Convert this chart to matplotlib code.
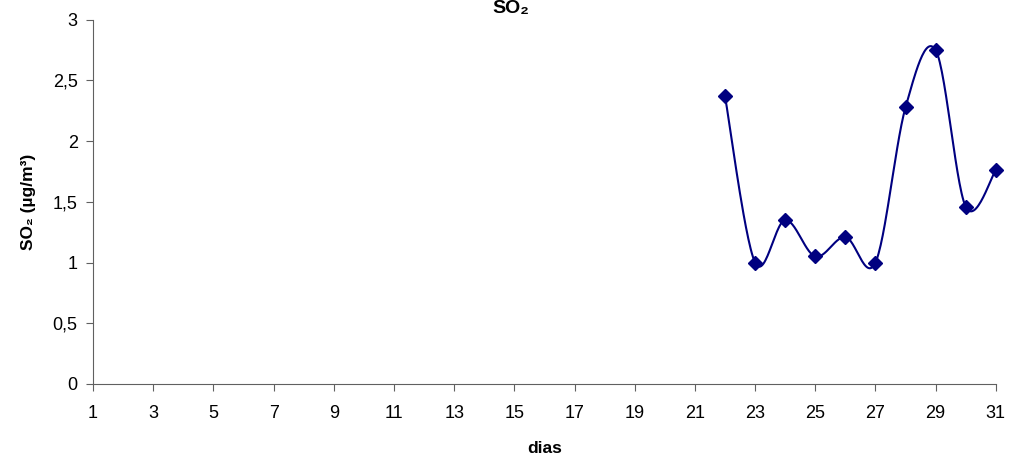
import numpy as np
import matplotlib.pyplot as plt
from matplotlib.ticker import FuncFormatter

plt.rcParams['font.family'] = ['Liberation Sans', 'DejaVu Sans']

# data (days 22-31)
dias = [22, 23, 24, 25, 26, 27, 28, 29, 30, 31]
so2 = [2.37, 1.00, 1.35, 1.05, 1.21, 1.00, 2.28, 2.75, 1.46, 1.76]
x_ticks = list(range(1, 32, 2))
y_ticks = [0, 0.5, 1, 1.5, 2, 2.5, 3]


def smooth(x, y, n=30):
    # excel-style smoothing (catmull-rom bezier)
    x = np.array(x, dtype=float)
    y = np.array(y, dtype=float)
    px = np.concatenate([[x[0]], x, [x[-1]]])
    py = np.concatenate([[y[0]], y, [y[-1]]])
    xs, ys = [], []
    t = np.linspace(0, 1, n)
    for i in range(1, len(px) - 2):
        p0 = np.array([px[i], py[i]])
        p3 = np.array([px[i + 1], py[i + 1]])
        p1 = p0 + (np.array([px[i + 1], py[i + 1]]) - np.array([px[i - 1], py[i - 1]])) / 6
        p2 = p3 - (np.array([px[i + 2], py[i + 2]]) - np.array([px[i], py[i]])) / 6
        b = ((1 - t) ** 3)[:, None] * p0 + (3 * (1 - t) ** 2 * t)[:, None] * p1 \
            + (3 * (1 - t) * t ** 2)[:, None] * p2 + (t ** 3)[:, None] * p3
        xs.extend(b[:, 0])
        ys.extend(b[:, 1])
    return xs, ys


fig = plt.figure(figsize=(10.11, 4.71), dpi=100)
ax = fig.add_axes([0.092, 0.185, 0.893, 0.773])

sx, sy = smooth(dias, so2)
ax.plot(sx, sy, color='#000080', lw=1.5, clip_on=False)
ax.plot(dias, so2, 'D', color='#000080', markersize=7.5, linestyle='none', clip_on=False)

ax.set_xlim(1, 31)
ax.set_ylim(0, 3)
ax.set_xticks(x_ticks)
ax.set_yticks(y_ticks)
ax.yaxis.set_major_formatter(FuncFormatter(lambda v, p: ('%g' % v).replace('.', ',')))
ax.tick_params(labelsize=13, length=5, color='#606060', pad=6)
ax.tick_params(axis='x', pad=10)
for s in ['top', 'right']:
    ax.spines[s].set_visible(False)
for s in ['left', 'bottom']:
    ax.spines[s].set_color('#606060')

ax.set_xlabel('dias', fontweight='bold', fontsize=12.5, labelpad=14)
ax.set_ylabel('SO₂ (µg/m³)', fontweight='bold', fontsize=12.5, labelpad=12)
fig.text(0.505, 1.0, 'SO₂', ha='center', va='top', fontweight='bold', fontsize=14)

fig.savefig('out.png', dpi=100)
